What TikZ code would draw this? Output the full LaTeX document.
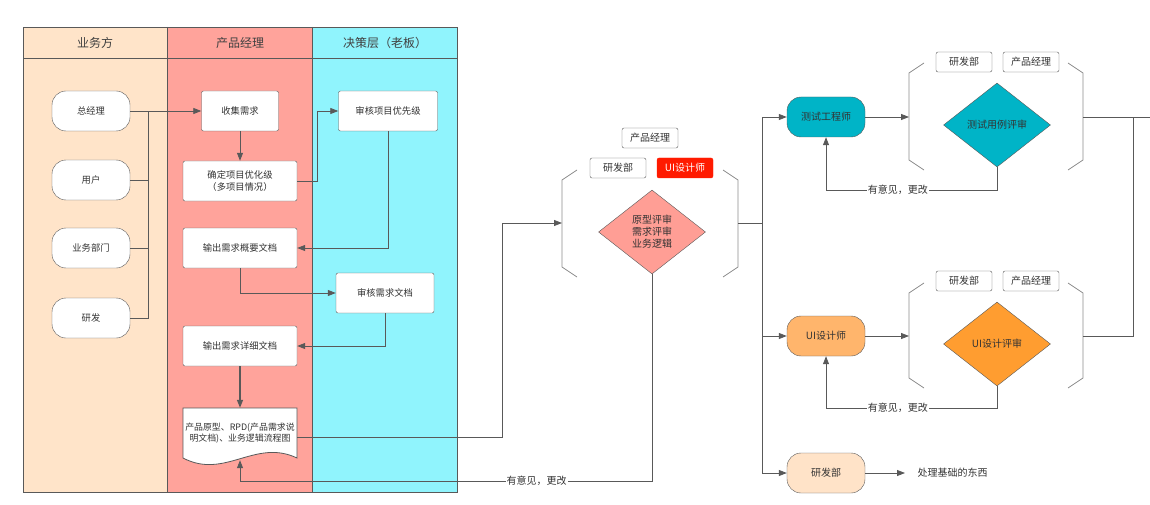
\documentclass[tikz,border=0pt]{standalone}
\usepackage{fontspec}
\setmainfont{Noto Sans CJK SC}
\usetikzlibrary{arrows.meta,shapes.geometric}

\definecolor{laneA}{HTML}{FFE4C9}
\definecolor{laneB}{HTML}{FFA39B}
\definecolor{laneC}{HTML}{90F4FD}
\definecolor{linegray}{HTML}{595959}
\definecolor{bracketgray}{HTML}{8A8A8A}
\definecolor{testcyan}{HTML}{00B4C7}
\definecolor{uilight}{HTML}{FFB56C}
\definecolor{uidark}{HTML}{FF9D30}
\definecolor{devpeach}{HTML}{FFE3C8}
\definecolor{tagred}{HTML}{FF1A00}
\definecolor{reviewpink}{HTML}{FF9E95}

\tikzset{
  txt/.style={font=\fontsize{10}{12}\selectfont, text=black!80},
  lanetxt/.style={font=\fontsize{9.3}{11.5}\selectfont, text=black!80},
  box/.style={lanetxt, draw=linegray, fill=white, rounded corners=2pt, align=center,
    minimum height=40pt, inner sep=1pt},
  pill/.style={box, rounded corners=14pt, minimum width=78pt},
  rolepill/.style={pill, txt},
  tag/.style={txt, draw=linegray, fill=white, rounded corners=2pt,
    minimum width=56pt, minimum height=20pt, inner sep=1pt},
  review/.style={txt, diamond, draw=linegray, aspect=1.28, inner sep=0pt,
    minimum width=107pt, minimum height=84pt, align=center},
  wire/.style={draw=linegray, line width=0.8pt},
  flow/.style={wire, -{Triangle[length=8pt,width=6pt]}},
  bracketline/.style={draw=bracketgray, line width=0.8pt},
  header/.style={font=\fontsize{12}{14}\selectfont, text=black!75}
}

\begin{document}
\begin{tikzpicture}[x=1pt,y=-1pt]
\useasboundingbox (0,0) rectangle (1150,505);

% Swim lanes
\fill[laneA] (23,27) rectangle (167,492);
\fill[laneB] (167,27) rectangle (312,492);
\fill[laneC] (312,27) rectangle (457,492);
\draw[linegray, line width=0.8pt] (23,27) rectangle (457,492);
\draw[linegray, line width=0.8pt] (167,27) -- (167,492) (312,27) -- (312,492) (23,58) -- (457,58);
\node[header] (hA) at (95,43) {业务方};
\node[header] (hB) at (240,43) {产品经理};
\node[header] (hC) at (385,43) {决策层（老板）};

% Business side
\node[pill] (gm) at (91,111) {总经理};
\node[pill] (user) at (91,180) {用户};
\node[pill] (dept) at (91,248) {业务部门};
\node[pill] (rd) at (91,318) {研发};
\coordinate (bus) at (148,111);

% Product manager
\node[box, minimum width=77pt] (collect) at (240,111) {收集需求};
\node[box, minimum width=114pt] (prio) at (240,181) {确定项目优化级\\（多项目情况）};
\node[box, minimum width=114pt] (brief) at (240,248) {输出需求概要文档};
\node[box, minimum width=114pt] (detail) at (240,346) {输出需求详细文档};

% Decision makers
\node[box, minimum width=99pt] (rank) at (388,111) {审核项目优先级};
\node[box, minimum width=98pt] (check) at (385,293) {审核需求文档};

% Document shape
\draw[wire, fill=white] (183,408) -- (297,408) -- (297,458)
  .. controls (255,438) and (225,480) .. (183,458) -- cycle;
\node[lanetxt, font=\fontsize{8.9}{11.5}\selectfont, minimum width=114pt, minimum height=50pt, inner sep=0pt, align=center] (doc) at (240,433)
  {产品原型、RPD(产品需求说\\明文档)、业务逻辑流程图};

% Lane connectors
\draw[flow] (gm) -- (collect);
\draw[wire] (rd.east) -| (bus);
\draw[wire] (user.east) -- (user.east -| bus);
\draw[wire] (dept.east) -- (dept.east -| bus);
\draw[flow] (collect) -- (prio);
\draw[flow] (prio.east) -- ++(20,0) |- (rank.west);
\draw[flow] (rank.south) |- (brief.east);
\draw[flow] (brief.south) |- (check.west);
\draw[flow] (check.south) |- (detail.east);
\draw[flow, line width=1.4pt] (detail) -- (doc.north);

% Review brackets
\foreach \lx/\rx/\ty/\by in {562/738/170/277, 909/1083/63/170, 909/1083/283/388}{
  \draw[bracketline] (\lx+15,\ty) -- (\lx,\ty+10) -- (\lx,\by-10) -- (\lx+15,\by);
  \draw[bracketline] (\rx-15,\ty) -- (\rx,\ty+10) -- (\rx,\by-10) -- (\rx-15,\by);
}
\coordinate (brkAl) at (562,223);
\coordinate (brkAr) at (738,223);
\coordinate (brkBl) at (909,117);
\coordinate (brkBr) at (1083,117);
\coordinate (brkCl) at (909,336);
\coordinate (brkCr) at (1083,336);

% Prototype review
\node[tag] (pmA) at (650,138) {产品经理};
\node[tag] (rdA) at (618,168) {研发部};
\node[tag, fill=tagred, draw=tagred, text=white] (uiA) at (685,168) {UI设计师};
\node[review, fill=reviewpink] (proto) at (652,232) {原型评审\\需求评审\\业务逻辑};
\draw[flow] ([yshift=-4pt]doc.east) -- ++(205,0) |- (brkAl);
\draw[flow] (proto.south) |- node[pos=0.64, fill=white, txt, inner sep=1pt] {有意见，更改} ([yshift=-23pt]doc.south) -- ([yshift=-2pt]doc.south);

% Roles after review
\coordinate (split) at (762,223);
\node[rolepill, fill=testcyan] (tester) at (826,117) {测试工程师};
\node[rolepill, fill=uilight] (uidesign) at (826,336) {UI设计师};
\node[rolepill, fill=devpeach] (dev) at (826,473) {研发部};
\node[txt, anchor=west] (basic) at (914,473) {处理基础的东西};
\draw[wire] (brkAr) -- (split);
\draw[flow] (split) |- (tester.west);
\draw[flow] (split) |- (uidesign.west);
\draw[flow] (split) |- (dev.west);
\draw[flow, shorten >=9pt] (dev) -- (basic);

% Test case review
\node[tag] (rdB) at (964,62) {研发部};
\node[tag] (pmB) at (1031,62) {产品经理};
\node[review, fill=testcyan] (caseRev) at (997,125) {测试用例评审};
\draw[flow] (tester) -- (brkBl);
\draw[flow] (caseRev.south) -- ++(0,23) -| node[pos=0.29, fill=white, txt, inner sep=1pt] {有意见，更改} (tester.south);

% UI review
\node[tag] (rdC) at (964,281) {研发部};
\node[tag] (pmC) at (1031,281) {产品经理};
\node[review, fill=uidark] (uiRev) at (997,344) {UI设计评审};
\draw[flow] (uidesign) -- (brkCl);
\draw[flow] (uiRev.south) -- ++(0,22) -| node[pos=0.29, fill=white, txt, inner sep=1pt] {有意见，更改} (uidesign.south);

% Exit
\coordinate (merge) at (1133,117);
\draw[wire] (brkBr) -- (1150,117);
\draw[wire] (brkCr) -| (merge);

\end{tikzpicture}
\end{document}
